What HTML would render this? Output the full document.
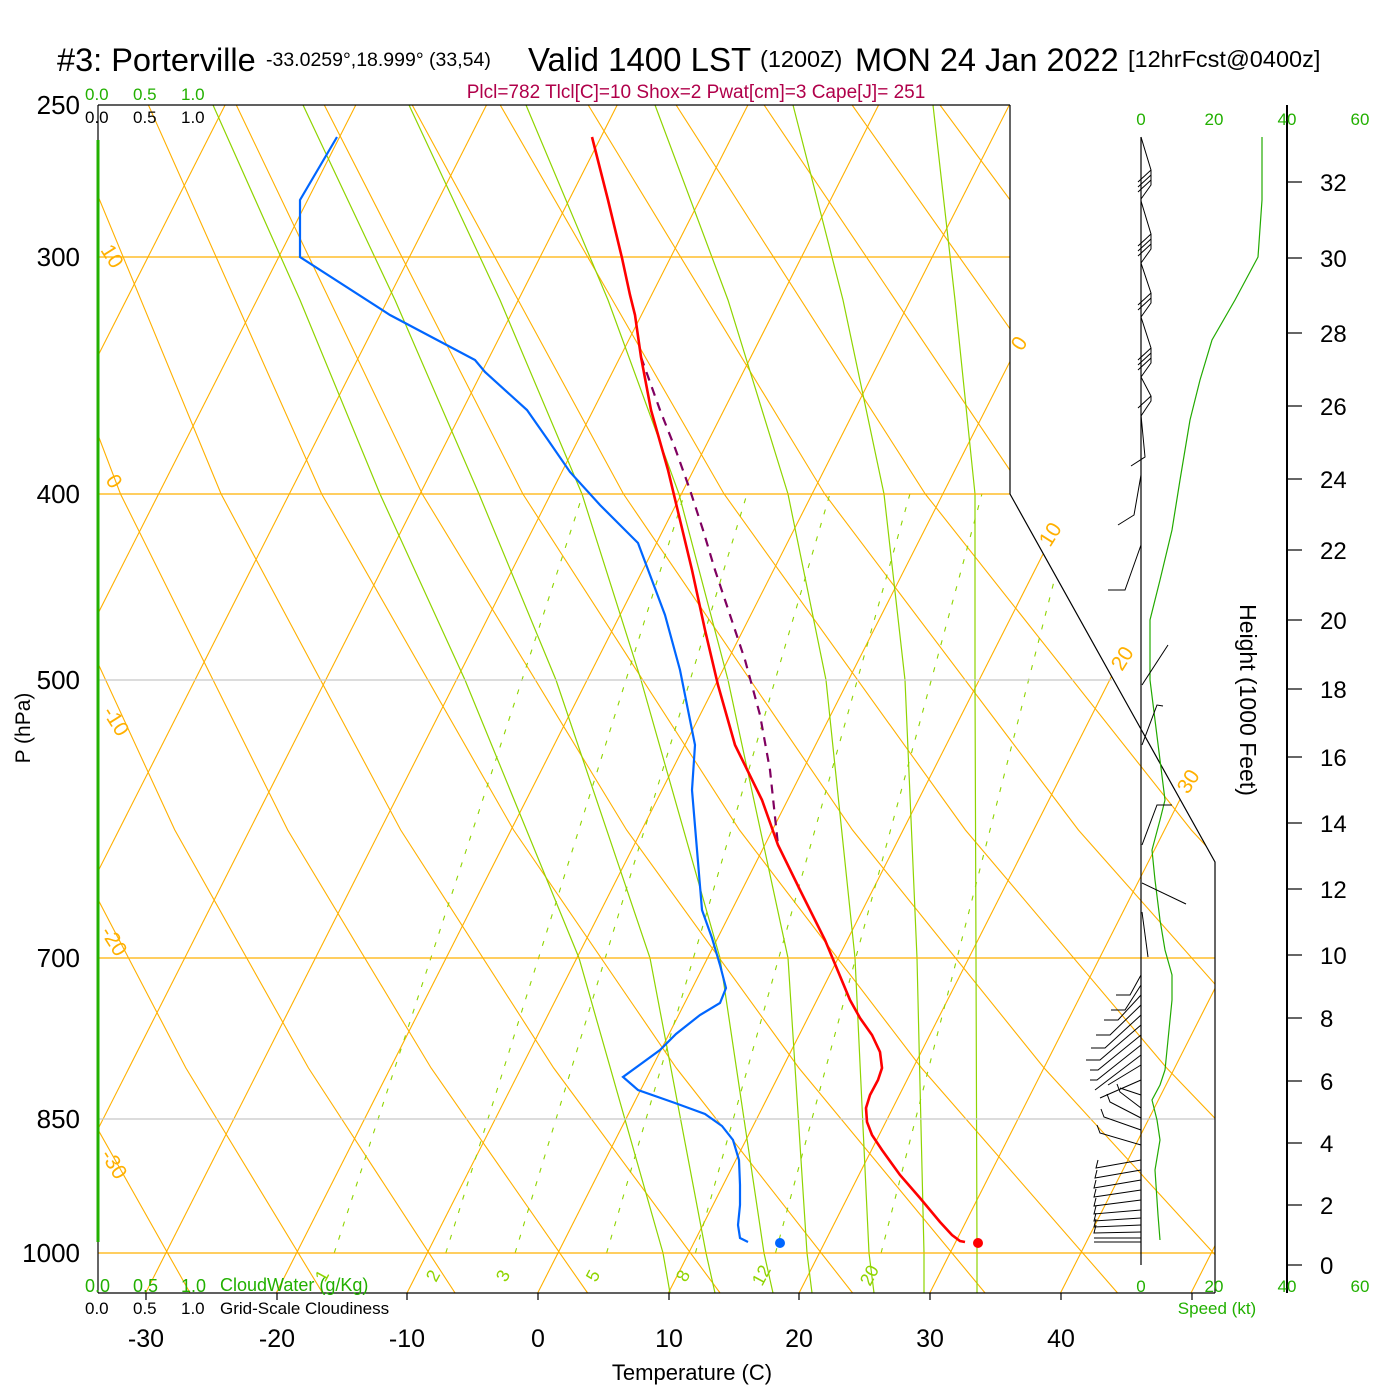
<!DOCTYPE html>
<html><head><meta charset="utf-8">
<style>
html,body{margin:0;padding:0;background:#fff;}
svg{display:block;font-family:"Liberation Sans",Arial,sans-serif;}
</style></head>
<body>
<svg width="1400" height="1400" viewBox="0 0 1400 1400" xmlns="http://www.w3.org/2000/svg">
<defs>
<clipPath id="cp"><polygon points="98,105 1010,105 1010,494 1215,862 1215,1293 98,1293"/></clipPath>
</defs>
<rect width="1400" height="1400" fill="#fff"/>
<g clip-path="url(#cp)" fill="none">
<!-- isotherms -->
<g stroke="#ffb000" stroke-width="1.1">
<line x1="-507.9" y1="1293" x2="94.4" y2="105"/>
<line x1="-377.2" y1="1293" x2="225.1" y2="105"/>
<line x1="-246.5" y1="1293" x2="355.8" y2="105"/>
<line x1="-115.8" y1="1293" x2="486.5" y2="105"/>
<line x1="14.9" y1="1293" x2="617.2" y2="105"/>
<line x1="145.6" y1="1293" x2="747.9" y2="105"/>
<line x1="276.3" y1="1293" x2="878.6" y2="105"/>
<line x1="407" y1="1293" x2="1009.3" y2="105"/>
<line x1="537.7" y1="1293" x2="1140" y2="105"/>
<line x1="668.4" y1="1293" x2="1270.7" y2="105"/>
<line x1="799.1" y1="1293" x2="1401" y2="105"/>
<line x1="929.8" y1="1293" x2="1532" y2="105"/>
<line x1="1060.5" y1="1293" x2="1663" y2="105"/>
<line x1="1191" y1="1293" x2="1793" y2="105"/>
</g>
<!-- dry adiabats -->
<g stroke="#ffb000" stroke-width="1.1">
<polyline points="57.6,1293 -59.3,1068 -164.1,830 -281.9,494 -379.4,105"/>
<polyline points="190.1,1293 63.3,1068 -51.1,830 -181.3,494 -291.4,105"/>
<polyline points="322.6,1293 185.9,1068 61.8,830 -80.7,494 -203.5,105"/>
<polyline points="455.1,1293 308.5,1068 174.8,830 19.9,494 -115.5,105"/>
<polyline points="587.6,1293 431.1,1068 287.7,830 120.5,494 -27.6,105"/>
<polyline points="720.1,1293 553.7,1068 400.7,830 221.1,494 60.4,105"/>
<polyline points="852.6,1293 676.3,1068 513.6,830 321.7,494 148.4,105"/>
<polyline points="985.1,1293 798.9,1068 626.6,830 422.3,494 236.3,105"/>
<polyline points="1117.6,1293 921.5,1068 739.5,830 522.9,494 324.3,105"/>
<polyline points="1250.1,1293 1044.1,1068 852.5,830 623.5,494 412.2,105"/>
<polyline points="1382.6,1293 1166.7,1068 965.4,830 724.1,494 500.2,105"/>
<polyline points="1515.1,1293 1289.3,1068 1078.4,830 824.7,494 588.2,105"/>
<polyline points="1647.6,1293 1411.9,1068 1191.3,830 925.3,494 676.1,105"/>
<polyline points="1780.1,1293 1534.5,1068 1304.3,830 1025.9,494 764.1,105"/>
<polyline points="1912.6,1293 1657.1,1068 1417.2,830 1126.5,494 852.1,105"/>
<polyline points="2045.1,1293 1779.7,1068 1530.2,830 1227.1,494 940,105"/>
<polyline points="2177.6,1293 1902.3,1068 1643.1,830 1327.7,494 1028,105"/>
<polyline points="2310.1,1293 2024.9,1068 1756.1,830 1428.3,494 1116,105"/>
</g>
<!-- moist adiabats -->
<g stroke="#8fd400" stroke-width="1.2">
<polyline points="213,105 300,300 380,494 465,680 579,958 663,1253 670,1293"/>
<polyline points="303,105 395,300 479,494 556,680 650,958 706,1253 715,1293"/>
<polyline points="409,105 500,300 582,494 641,680 720,958 764,1253 773,1293"/>
<polyline points="526,105 608,300 679,494 728,680 788,958 807,1253 812,1293"/>
<polyline points="655,105 728,300 788,494 826,680 855,958 869,1253 874,1293"/>
<polyline points="793,105 843,300 884,494 905,680 917,958 924,1253 924,1293"/>
<polyline points="933,105 955,300 975,494 975,680 976,958 977,1253 977,1293"/>
</g>
<!-- mixing ratio -->
<g stroke="#8fd400" stroke-width="1.1" stroke-dasharray="5,9">
<line x1="334.2" y1="1253" x2="582.9" y2="494"/>
<line x1="445.8" y1="1253" x2="684.4" y2="494"/>
<line x1="515.1" y1="1253" x2="747" y2="494"/>
<line x1="606.6" y1="1253" x2="829.9" y2="494"/>
<line x1="695.4" y1="1253" x2="909.9" y2="494"/>
<line x1="775.5" y1="1253" x2="981.9" y2="494"/>
<line x1="881.1" y1="1253" x2="1076.5" y2="494"/>
</g>
</g>
<!-- horizontal pressure lines -->
<g stroke-width="1.3">
<line x1="98" y1="257" x2="1010" y2="257" stroke="#ffb000"/>
<line x1="98" y1="494" x2="1010" y2="494" stroke="#ffb000"/>
<line x1="98" y1="680" x2="1112" y2="680" stroke="#c8c8c8"/>
<line x1="98" y1="958" x2="1215" y2="958" stroke="#ffb000"/>
<line x1="98" y1="1119" x2="1215" y2="1119" stroke="#c8c8c8"/>
<line x1="98" y1="1253" x2="1215" y2="1253" stroke="#ffb000"/>
</g>
<!-- frame -->
<g fill="none" stroke="#000" stroke-width="1.2">
<polyline points="1010,105 98,105"/>
<polyline points="1010,105 1010,494 1215,862 1215,1293"/>
<line x1="98" y1="1293" x2="1215" y2="1293"/>
<line x1="98" y1="105" x2="98" y2="1293"/>
</g>
<line x1="98" y1="140" x2="98" y2="1242" stroke="#22b000" stroke-width="3"/>
<!-- bottom ticks -->
<g stroke="#000" stroke-width="1.2">
<line x1="146" y1="1293" x2="146" y2="1300"/><line x1="277" y1="1293" x2="277" y2="1300"/>
<line x1="407" y1="1293" x2="407" y2="1300"/><line x1="538" y1="1293" x2="538" y2="1300"/>
<line x1="669" y1="1293" x2="669" y2="1300"/><line x1="799" y1="1293" x2="799" y2="1300"/>
<line x1="930" y1="1293" x2="930" y2="1300"/><line x1="1061" y1="1293" x2="1061" y2="1300"/>
<line x1="1192" y1="1293" x2="1192" y2="1300"/>
</g>
<!-- profiles -->
<polyline fill="none" stroke="#800060" stroke-width="2.2" stroke-dasharray="9,7" points="641,357 660,410 675,448 690,490 703,530 715,570 730,615 745,660 760,715 770,770 778,845"/>
<polyline fill="none" stroke="#ff0000" stroke-width="2.6" points="592,137 608,200 622,258 630,295 635,315 641,357 651,410 668,470 680,520 692,570 705,630 718,685 735,745 762,800 778,845 800,890 825,940 850,1000 860,1018 872,1035 880,1052 882,1068 878,1080 870,1095 866,1108 867,1122 872,1135 882,1150 900,1175 920,1198 940,1222 952,1235 960,1241 965,1242"/>
<circle cx="978" cy="1243" r="5" fill="#ff0000"/>
<polyline fill="none" stroke="#0066ff" stroke-width="2.2" points="337,137 300,200 300,257 390,315 475,360 485,372 527,410 548,440 570,472 600,505 638,543 665,615 680,670 695,745 692,790 697,850 702,910 712,938 720,965 726,988 720,1003 700,1015 676,1034 660,1050 623,1077 638,1090 675,1103 705,1114 722,1126 733,1140 739,1160 740,1185 740,1205 738,1225 740,1238 748,1242"/>
<circle cx="780" cy="1243" r="5" fill="#0066ff"/>
<!-- right panel -->
<line x1="1287" y1="105" x2="1287" y2="1293" stroke="#000" stroke-width="2"/>
<g stroke="#000" stroke-width="1.2">
<line x1="1287" y1="1265" x2="1302" y2="1265"/><line x1="1287" y1="1205" x2="1302" y2="1205"/>
<line x1="1287" y1="1143" x2="1302" y2="1143"/><line x1="1287" y1="1081" x2="1302" y2="1081"/>
<line x1="1287" y1="1018" x2="1302" y2="1018"/><line x1="1287" y1="955" x2="1302" y2="955"/>
<line x1="1287" y1="889" x2="1302" y2="889"/><line x1="1287" y1="823" x2="1302" y2="823"/>
<line x1="1287" y1="757" x2="1302" y2="757"/><line x1="1287" y1="689" x2="1302" y2="689"/>
<line x1="1287" y1="620" x2="1302" y2="620"/><line x1="1287" y1="550" x2="1302" y2="550"/>
<line x1="1287" y1="479" x2="1302" y2="479"/><line x1="1287" y1="406" x2="1302" y2="406"/>
<line x1="1287" y1="333" x2="1302" y2="333"/><line x1="1287" y1="258" x2="1302" y2="258"/>
<line x1="1287" y1="182" x2="1302" y2="182"/>
</g>
<g font-size="24" fill="#000">
<text x="1320" y="1274">0</text><text x="1320" y="1214">2</text><text x="1320" y="1152">4</text>
<text x="1320" y="1090">6</text><text x="1320" y="1027">8</text><text x="1320" y="964">10</text>
<text x="1320" y="898">12</text><text x="1320" y="832">14</text><text x="1320" y="766">16</text>
<text x="1320" y="698">18</text><text x="1320" y="629">20</text><text x="1320" y="559">22</text>
<text x="1320" y="488">24</text><text x="1320" y="415">26</text><text x="1320" y="342">28</text>
<text x="1320" y="267">30</text><text x="1320" y="191">32</text>
</g>
<text x="1240" y="700" font-size="23" transform="rotate(90 1240 700)" text-anchor="middle">Height (1000 Feet)</text>
<line x1="1141" y1="137" x2="1141" y2="1265" stroke="#000" stroke-width="1.2"/>
<polyline fill="none" stroke="#22aa00" stroke-width="1.2" points="1160,1240 1158,1215 1155,1170 1160,1140 1157,1120 1152,1100 1160,1085 1165,1070 1168,1040 1172,1000 1172,975 1165,950 1160,920 1155,880 1152,850 1160,820 1165,800 1160,760 1155,720 1150,680 1150,620 1160,580 1172,530 1180,480 1190,420 1200,380 1212,340 1235,300 1258,257 1262,200 1262,137"/>
<g fill="none" stroke="#000" stroke-width="1">
<polyline points="1141,137 1151,170 1138,182"/><line x1="1151" y1="175" x2="1138" y2="187"/><line x1="1151" y1="180" x2="1138" y2="192"/><polyline points="1151,170 1151,185 1141,199"/>
<polyline points="1141,201 1151,234 1138,246"/><line x1="1151" y1="239" x2="1138" y2="251"/><line x1="1151" y1="244" x2="1138" y2="256"/><polyline points="1151,234 1151,249 1141,263"/>
<polyline points="1141,263 1151,293 1138,305"/><line x1="1151" y1="298" x2="1138" y2="310"/><polyline points="1151,293 1151,303 1141,317"/>
<polyline points="1141,317 1151,348 1138,360"/><line x1="1151" y1="353" x2="1138" y2="365"/><line x1="1151" y1="358" x2="1138" y2="370"/><polyline points="1151,348 1151,363 1141,377"/>
<polyline points="1141,377 1151,396 1138,408"/><polyline points="1151,396 1151,401 1141,416"/>
<polyline points="1141,415 1145,457 1131,466"/>
<polyline points="1141,475 1134,515 1118,525"/>
<polyline points="1141,545 1125,590 1108,590"/>
<polyline points="1142,685 1168,645"/>
<polyline points="1142,745 1157,705 1163,706"/>
<polyline points="1142,845 1157,805 1172,805"/>
<polyline points="1142,883 1186,904"/>
<polyline points="1142,912 1148,957"/>
<polyline points="1141,975 1130,995 1116,995"/>
<polyline points="1141,985 1125,1010 1111,1010"/>
<polyline points="1141,995 1118,1020 1104,1020"/>
<polyline points="1141,1005 1110,1035 1096,1035"/>
<polyline points="1141,1015 1105,1048 1091,1048"/>
<polyline points="1141,1025 1100,1060 1086,1060"/>
<polyline points="1141,1035 1098,1070 1090,1070"/>
<polyline points="1141,1045 1097,1080 1090,1080"/>
<polyline points="1141,1055 1095,1090"/>
<polyline points="1141,1065 1108,1085"/>
<polyline points="1141,1080 1100,1098"/>
<polyline points="1141,1095 1120,1088"/>
<polyline points="1141,1108 1120,1092 1117,1084"/>
<polyline points="1141,1118 1110,1102 1107,1094"/>
<polyline points="1141,1130 1104,1117 1101,1109"/>
<polyline points="1141,1145 1100,1133 1097,1125"/>
<polyline points="1141,1160 1096,1168 1098,1160"/>
<polyline points="1141,1170 1095,1178 1097,1170"/>
<polyline points="1141,1180 1094,1188 1096,1180"/>
<polyline points="1141,1190 1094,1197 1096,1189"/>
<polyline points="1141,1200 1094,1206 1096,1198"/>
<polyline points="1141,1210 1094,1214 1096,1206"/>
<polyline points="1141,1218 1094,1221 1096,1213"/>
<polyline points="1141,1225 1094,1227 1096,1219"/>
<polyline points="1141,1232 1094,1233 1096,1225"/>
<polyline points="1141,1238 1094,1238"/>
<polyline points="1141,1242 1094,1242"/>
</g>
<g font-size="17" fill="#22b000" text-anchor="middle">
<text x="1141" y="125">0</text><text x="1214" y="125">20</text><text x="1287" y="125">40</text><text x="1360" y="125">60</text>
<text x="1141" y="1292">0</text><text x="1214" y="1292">20</text><text x="1287" y="1292">40</text><text x="1360" y="1292">60</text>
<text x="1217" y="1314">Speed (kt)</text>
</g>
<!-- titles -->
<text x="57" y="71" font-size="32.5">#3: Porterville</text>
<text x="266" y="66" font-size="19.5">-33.0259°,18.999° (33,54)</text>
<text x="528" y="71" font-size="33">Valid 1400 LST</text>
<text x="760" y="67" font-size="23.5">(1200Z)</text>
<text x="855" y="71" font-size="32.5">MON 24 Jan 2022</text>
<text x="1128" y="67" font-size="23.5">[12hrFcst@0400z]</text>
<text x="696" y="98" font-size="19" fill="#b0004a" text-anchor="middle">Plcl=782 Tlcl[C]=10 Shox=2 Pwat[cm]=3 Cape[J]= 251</text>
<g font-size="17" fill="#22b000"><text x="85" y="100">0.0</text><text x="133" y="100">0.5</text><text x="181" y="100">1.0</text></g>
<g font-size="17" fill="#000"><text x="85" y="123">0.0</text><text x="133" y="123">0.5</text><text x="181" y="123">1.0</text></g>
<g font-size="18" fill="#22b000"><text x="85" y="1292">0.0</text><text x="133" y="1292">0.5</text><text x="181" y="1292">1.0</text><text x="220" y="1291">CloudWater (g/Kg)</text></g>
<g font-size="17" fill="#000"><text x="85" y="1314">0.0</text><text x="133" y="1314">0.5</text><text x="181" y="1314">1.0</text><text x="220" y="1314">Grid-Scale Cloudiness</text></g>
<!-- pressure labels -->
<g font-size="26" fill="#000" text-anchor="end">
<text x="80" y="114">250</text><text x="80" y="266">300</text><text x="80" y="503">400</text>
<text x="80" y="689">500</text><text x="80" y="967">700</text><text x="80" y="1128">850</text><text x="80" y="1262">1000</text>
</g>
<text x="30" y="728" font-size="21" transform="rotate(-90 30 728)" text-anchor="middle">P (hPa)</text>
<g font-size="25" fill="#000" text-anchor="middle">
<text x="146" y="1347">-30</text><text x="277" y="1347">-20</text><text x="407" y="1347">-10</text>
<text x="538" y="1347">0</text><text x="669" y="1347">10</text><text x="799" y="1347">20</text>
<text x="930" y="1347">30</text><text x="1061" y="1347">40</text>
</g>
<text x="692" y="1380" font-size="22" text-anchor="middle">Temperature (C)</text>
<!-- orange labels -->
<g font-size="21" fill="#ffb000">
<text x="100" y="250" transform="rotate(58 100 250)">10</text>
<text x="105" y="480" transform="rotate(58 105 480)">0</text>
<text x="102" y="712" transform="rotate(58 102 712)">-10</text>
<text x="100" y="932" transform="rotate(58 100 932)">-20</text>
<text x="100" y="1155" transform="rotate(58 100 1155)">-30</text>
<text x="1022" y="352" transform="rotate(-58 1022 352)">0</text>
<text x="1050" y="548" transform="rotate(-58 1050 548)">10</text>
<text x="1122" y="672" transform="rotate(-58 1122 672)">20</text>
<text x="1188" y="795" transform="rotate(-58 1188 795)">30</text>
</g>
<g font-size="18" fill="#8fd400">
<text x="325" y="1283" transform="rotate(-62 325 1283)">1</text>
<text x="436" y="1283" transform="rotate(-62 436 1283)">2</text>
<text x="506" y="1283" transform="rotate(-62 506 1283)">3</text>
<text x="596" y="1283" transform="rotate(-62 596 1283)">5</text>
<text x="686" y="1283" transform="rotate(-62 686 1283)">8</text>
<text x="762" y="1287" transform="rotate(-62 762 1287)">12</text>
<text x="870" y="1287" transform="rotate(-62 870 1287)">20</text>
</g>
</svg>
</body></html>
